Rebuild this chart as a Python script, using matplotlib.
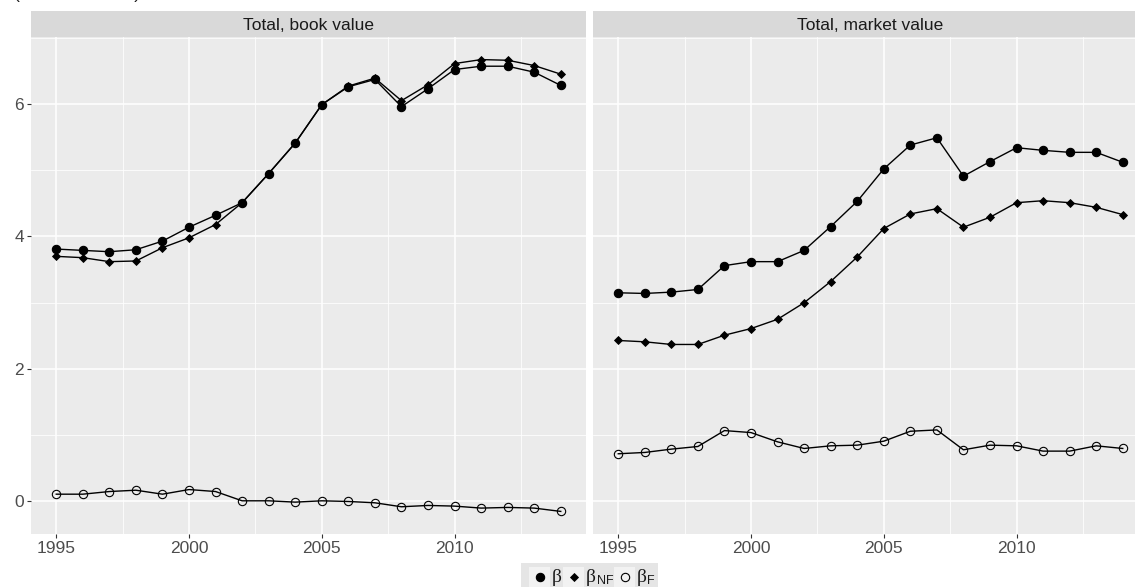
import matplotlib
matplotlib.use("Agg")
import matplotlib.pyplot as plt
from matplotlib.patches import Rectangle
from matplotlib.lines import Line2D
import numpy as np

# ---------------- data ----------------
years = list(range(1995, 2015))
panels = ["Total, book value", "Total, market value"]

book_beta = [3.81, 3.79, 3.77, 3.80, 3.93, 4.14, 4.32, 4.51, 4.95, 5.41,
             5.99, 6.26, 6.37, 5.96, 6.23, 6.52, 6.57, 6.57, 6.48, 6.28]
book_beta_nf = [3.70, 3.68, 3.62, 3.63, 3.83, 3.98, 4.18, 4.51, 4.95, 5.41,
                5.99, 6.27, 6.39, 6.05, 6.29, 6.61, 6.67, 6.66, 6.58, 6.45]
book_beta_f = [0.11, 0.11, 0.15, 0.17, 0.11, 0.18, 0.15, 0.01, 0.01, -0.01,
               0.01, 0.00, -0.02, -0.08, -0.06, -0.07, -0.10, -0.09, -0.10, -0.15]

market_beta = [3.15, 3.14, 3.16, 3.20, 3.56, 3.62, 3.62, 3.79, 4.15, 4.53,
               5.02, 5.38, 5.49, 4.91, 5.13, 5.34, 5.30, 5.27, 5.27, 5.12]
market_beta_nf = [2.43, 2.41, 2.37, 2.37, 2.51, 2.61, 2.75, 3.00, 3.32, 3.69,
                  4.12, 4.34, 4.42, 4.14, 4.29, 4.51, 4.54, 4.51, 4.44, 4.33]
market_beta_f = [0.72, 0.74, 0.79, 0.83, 1.07, 1.04, 0.90, 0.80, 0.84, 0.85,
                 0.91, 1.06, 1.08, 0.78, 0.85, 0.84, 0.76, 0.76, 0.84, 0.80]

x_ticks = [1995, 2000, 2005, 2010]
y_ticks = [0, 2, 4, 6]

series_names = ["β", "βNF", "βF"]

# ---------------- layout helpers ----------------
W, H = 1135, 587
fig = plt.figure(figsize=(W / 100, H / 100), dpi=100)
fig.patch.set_facecolor("white")


def fx(px):
    return px / W


def fy(py):
    return 1 - py / H


PANEL_BG = "#EBEBEB"
STRIP_BG = "#D9D9D9"
AX_TEXT = "#4D4D4D"
FONT = "Liberation Sans"

# shared y range with ggplot-like 5% expansion
all_vals = np.array(book_beta + book_beta_nf + book_beta_f +
                    market_beta + market_beta_nf + market_beta_f)
ymin, ymax = all_vals.min(), all_vals.max()
yr = ymax - ymin
ylim = (ymin - 0.05 * yr, ymax + 0.05 * yr)
xr = years[-1] - years[0]
xlim = (years[0] - 0.05 * xr, years[-1] + 0.05 * xr)

panel_left = [31, 593]
panel_w = 555
panel_top, panel_bottom = 37, 534
strip_top = 11

data = [
    (book_beta, book_beta_nf, book_beta_f),
    (market_beta, market_beta_nf, market_beta_f),
]

styles = [
    dict(marker="o", ms=6.0, mfc="black", mec="black", mew=0.8),
    dict(marker="D", ms=4.4, mfc="black", mec="black", mew=0.6),
    dict(marker="o", ms=6.0, mfc="none", mec="black", mew=0.8),
]

for i, (title, series) in enumerate(zip(panels, data)):
    left = panel_left[i]
    ax = fig.add_axes([fx(left), fy(panel_bottom), panel_w / W,
                       (panel_bottom - panel_top) / H])
    ax.set_facecolor(PANEL_BG)
    for s in ax.spines.values():
        s.set_visible(False)
    ax.set_xlim(*xlim)
    ax.set_ylim(*ylim)
    ax.set_xticks(x_ticks)
    ax.set_xticks([1997.5, 2002.5, 2007.5, 2012.5], minor=True)
    ax.set_yticks(y_ticks)
    ax.set_yticks([1, 3, 5, 7], minor=True)
    ax.grid(True, which="major", color="white", lw=1.1)
    ax.grid(True, which="minor", color="white", lw=0.55)
    ax.set_axisbelow(True)
    ax.tick_params(which="minor", length=0)
    ax.tick_params(which="major", length=3, width=0.8, color="#333333",
                   labelsize=12.5, labelcolor=AX_TEXT, pad=2)
    for lab in ax.get_xticklabels() + ax.get_yticklabels():
        lab.set_fontfamily(FONT)
    if i == 1:
        ax.tick_params(axis="y", left=False, labelleft=False)

    # lines first, then points
    for vals in series:
        ax.plot(years, vals, color="black", lw=1.0, zorder=3)
    for vals, st in zip(series, styles):
        ax.plot(years, vals, ls="none", zorder=4, **st)

    # strip
    sax = fig.add_axes([fx(left), fy(panel_top), panel_w / W,
                        (panel_top - strip_top) / H])
    sax.set_facecolor(STRIP_BG)
    sax.set_xticks([])
    sax.set_yticks([])
    for s in sax.spines.values():
        s.set_visible(False)
    sax.text(0.5, 0.45, title, ha="center", va="center", fontsize=12.5,
             color="#1A1A1A", fontfamily=FONT, transform=sax.transAxes)

# partially cut-off header text at the very top (as in the reference)
fig.text(fx(14), fy(-1.5), "(ratio to income)", ha="left", va="baseline",
         fontsize=12.5, color="#1A1A1A", fontfamily=FONT)

# ---------------- legend ----------------
lax = fig.add_axes([fx(521), fy(590), (658 - 521) / W, (590 - 563) / H])
lax.set_xlim(521, 658)
lax.set_ylim(590, 563)
lax.set_facecolor("#E5E5E5")
lax.set_xticks([])
lax.set_yticks([])
for s in lax.spines.values():
    s.set_visible(False)

key_x = [529, 563, 614]
key_w = 21
for kx, st in zip(key_x, styles):
    lax.add_patch(Rectangle((kx, 567.5), key_w, 22, facecolor="#F2F2F2",
                            edgecolor="none"))
    lax.add_artist(Line2D([kx + key_w / 2], [577.5], ls="none", **st))

serif = "Liberation Serif"
lax.text(552, 578, "β", fontsize=14, fontfamily=serif, va="center", ha="left",
         color="#1A1A1A")
lax.text(586, 578, "β", fontsize=14, fontfamily=serif, va="center", ha="left",
         color="#1A1A1A")
lax.text(596.5, 581.5, "NF", fontsize=9, fontfamily=FONT, va="center", ha="left",
         color="#1A1A1A")
lax.text(637, 578, "β", fontsize=14, fontfamily=serif, va="center", ha="left",
         color="#1A1A1A")
lax.text(647.5, 581.5, "F", fontsize=9, fontfamily=FONT, va="center", ha="left",
         color="#1A1A1A")

fig.savefig("out.png", dpi=100)
